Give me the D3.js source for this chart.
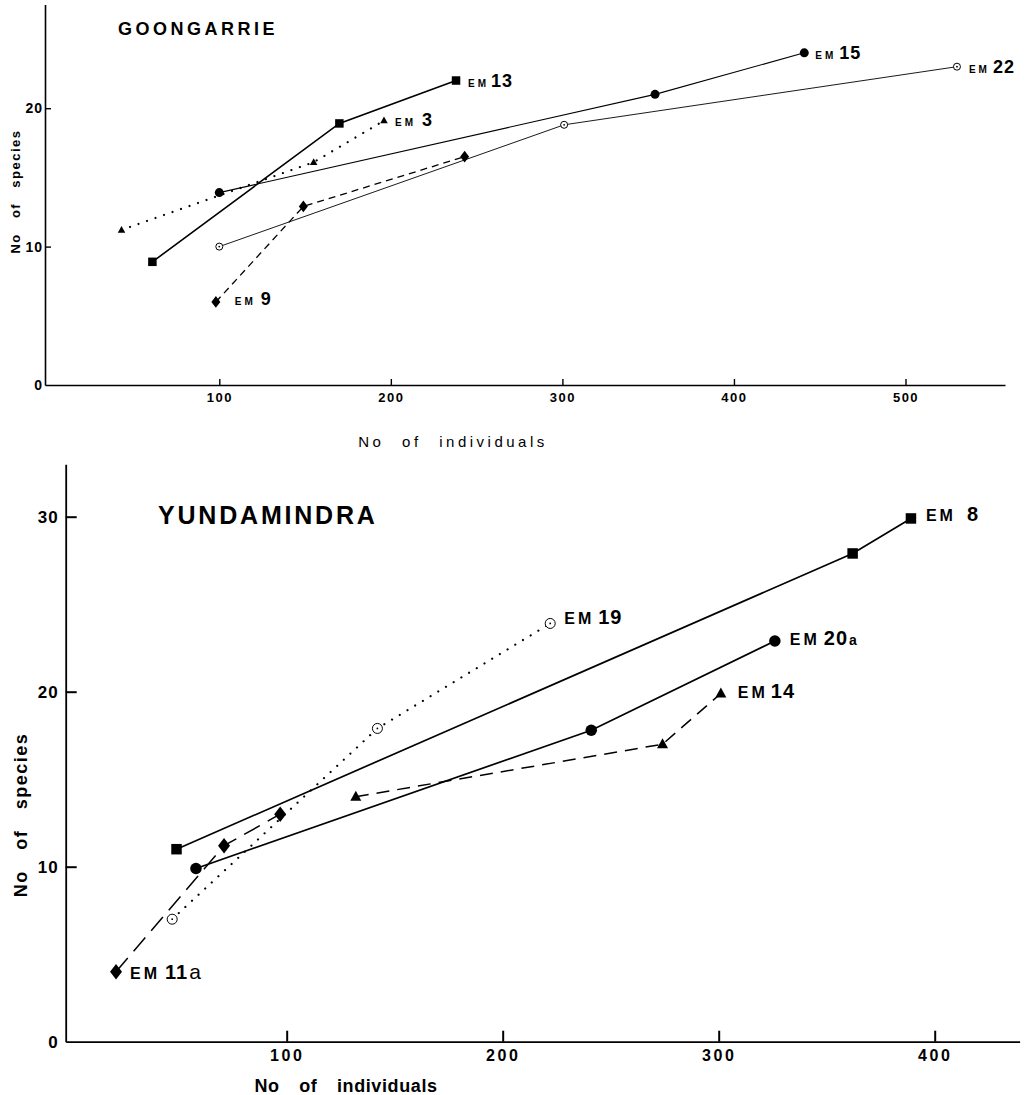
<!DOCTYPE html>
<html>
<head>
<meta charset="utf-8">
<script src="https://cdn.jsdelivr.net/npm/d3@7"></script>
<style>
  body { margin: 0; background: #fff; }
  svg { display: block; font-family: "Liberation Sans", Arial, Helvetica, sans-serif; }
</style>
</head>
<body>
<div id="chart"></div>
<script>
// values: [No of individuals, No of species]
const goongarrieEM13 = [[61, 8.9], [170, 18.9], [238, 22.0]];
const goongarrieEM3  = [[43, 11.2], [155, 16.1], [196, 19.1]];
const goongarrieEM15 = [[100, 13.9], [354, 21.0], [441, 24.0]];
const goongarrieEM22 = [[100, 10.0], [301, 18.8], [530, 23.0]];
const goongarrieEM9  = [[98, 6.0], [149, 12.9], [243, 16.5]];

const yundamindraEM8   = [[49, 11.0], [362, 27.9], [389, 29.9]];
const yundamindraEM20a = [[58, 9.9], [241, 17.8], [326, 22.9]];
const yundamindraEM14  = [[132, 14.0], [274, 17.0], [301, 19.9]];
const yundamindraEM19  = [[47, 7.0], [142, 17.9], [222, 23.9]];
const yundamindraEM11a = [[21, 4.0], [71, 11.2], [97, 13.0]];

const goongarrieXTicks = [100, 200, 300, 400, 500];
const goongarrieYTicks = [0, 10, 20];
const yundamindraXTicks = [100, 200, 300, 400];
const yundamindraYTicks = [0, 10, 20, 30];

// marker shapes, size = width in px
const symSquare = { draw(ctx, w) { ctx.rect(-w / 2, -w / 2, w, w); } };
const symCircle = { draw(ctx, w) { ctx.moveTo(w / 2, 0); ctx.arc(0, 0, w / 2, 0, 2 * Math.PI); } };
const symTriangle = { draw(ctx, w) {
  const h = w * 0.9;
  ctx.moveTo(0, -h * 0.6); ctx.lineTo(w / 2, h * 0.4); ctx.lineTo(-w / 2, h * 0.4); ctx.closePath();
} };
const symDiamond = { draw(ctx, w) {
  const h = w * 1.3;
  ctx.moveTo(0, -h / 2); ctx.lineTo(w / 2, 0); ctx.lineTo(0, h / 2); ctx.lineTo(-w / 2, 0); ctx.closePath();
} };

const DOTTED = "0.01 9", SOLID = null;

const panels = [
  {
    title: "GOONGARRIE", titleX: 118, titleY: 35, titleSize: 18, titleSpacing: 3.5,
    xDomain: [-1.6, 558], xRange: [45, 1005],
    yDomain: [0, 27.5], yRange: [385, 4.4],
    xTicks: goongarrieXTicks, yTicks: goongarrieYTicks,
    axisWidth: 1.6, tickLen: 6, tickWidth: 1.4,
    xTickFont: 13, xTickSpacing: 1.5, xTickPad: 8,
    yTickFont: 14, yTickSpacing: 1, yTickPad: 2,
    xTitle: { x: 453, y: 447, size: 15, weight: "normal", ls: 3.5, ws: 10 },
    yTitle: { x: 20, y: 191.5, size: 13, weight: "bold", ls: 1.5, ws: 10 },
    emSize: 10, emSpacing: 3, numSize: 18,
    series: [
      { name: "EM13", data: goongarrieEM13, sym: symSquare, size: 8.5, width: 1.6, dash: SOLID, at: "last", dx: 12, dy: 6, gap: 2 },
      { name: "EM3", data: goongarrieEM3, sym: symTriangle, size: 7.5, width: 2.2, dash: DOTTED, at: "last", dx: 11, dy: 5.5, gap: 6 },
      { name: "EM15", data: goongarrieEM15, sym: symCircle, size: 9, width: 1.1, dash: SOLID, at: "last", dx: 11, dy: 6, gap: 3 },
      { name: "EM22", data: goongarrieEM22, sym: symCircle, open: true, size: 7, width: 0.9, dash: SOLID, at: "last", dx: 12, dy: 6, gap: 3 },
      { name: "EM9", data: goongarrieEM9, sym: symDiamond, size: 9, width: 1.3, dash: "7 5", at: "first", dx: 19, dy: 3, gap: 5 }
    ]
  },
  {
    title: "YUNDAMINDRA", titleX: 158, titleY: 524, titleSize: 25, titleSpacing: 2.8,
    xDomain: [-2.3, 439.3], xRange: [65.7, 1019.6],
    yDomain: [0, 33], yRange: [1041.7, 464.2],
    xTicks: yundamindraXTicks, yTicks: yundamindraYTicks,
    axisWidth: 1.8, tickLen: 11, tickWidth: 2,
    xTickFont: 16, xTickSpacing: 2.5, xTickPad: 8.3,
    yTickFont: 17, yTickSpacing: 1, yTickPad: 7,
    xTitle: { x: 346, y: 1092, size: 18, weight: "bold", ls: 0.6, ws: 14 },
    yTitle: { x: 27, y: 815, size: 18, weight: "bold", ls: 1.5, ws: 14 },
    emSize: 16, emSpacing: 3, numSize: 20,
    series: [
      { name: "EM8", data: yundamindraEM8, sym: symSquare, size: 10.5, width: 1.7, dash: SOLID, at: "last", dx: 15, dy: 3, gap: 11 },
      { name: "EM20a", data: yundamindraEM20a, sym: symCircle, size: 11.5, width: 1.7, dash: SOLID, at: "last", dx: 15, dy: 4, gap: 4, suffixSize: 14, suffixWeight: "bold" },
      { name: "EM14", data: yundamindraEM14, sym: symTriangle, size: 11, width: 1.5, dash: "13 8", at: "last", dx: 17, dy: 5, gap: 3 },
      { name: "EM19", data: yundamindraEM19, sym: symCircle, open: true, size: 10, width: 2.2, dash: DOTTED, at: "last", dx: 14, dy: 1, gap: 4 },
      { name: "EM11a", data: yundamindraEM11a, sym: symDiamond, size: 12, width: 1.5, dash: "18 9", at: "first", dx: 14, dy: 7, gap: 5, suffixSize: 21, suffixWeight: "normal" }
    ]
  }
];

const svg = d3.select("#chart").append("svg")
  .attr("width", 1029)
  .attr("height", 1095);

function drawPanel(p) {
  const g = svg.append("g");
  const x = d3.scaleLinear().domain(p.xDomain).range(p.xRange);
  const y = d3.scaleLinear().domain(p.yDomain).range(p.yRange);

  // axes, ticks pointing inward
  const xAxis = d3.axisBottom(x).tickValues(p.xTicks).tickSize(-p.tickLen).tickSizeOuter(0).tickPadding(p.xTickPad);
  const yAxis = d3.axisLeft(y).tickValues(p.yTicks).tickSize(-p.tickLen).tickSizeOuter(0).tickPadding(p.yTickPad);

  const gx = g.append("g").attr("transform", `translate(0,${p.yRange[0]})`).call(xAxis);
  const gy = g.append("g").attr("transform", `translate(${p.xRange[0]},0)`).call(yAxis);
  [gx, gy].forEach(a => {
    a.attr("font-family", null).attr("font-size", null);
    a.select(".domain").attr("stroke", "#000").attr("stroke-width", p.axisWidth);
    a.selectAll(".tick line").attr("stroke", "#000").attr("stroke-width", p.tickWidth);
    a.selectAll(".tick text").attr("fill", "#000").attr("font-weight", "bold");
  });
  gx.selectAll(".tick text").attr("font-size", p.xTickFont).attr("letter-spacing", p.xTickSpacing);
  gy.selectAll(".tick text").attr("font-size", p.yTickFont).attr("letter-spacing", p.yTickSpacing);
  gy.selectAll(".tick").filter(d => d === 0).select("line").remove();

  // title
  g.append("text")
    .attr("x", p.titleX).attr("y", p.titleY)
    .attr("font-size", p.titleSize).attr("font-weight", "bold")
    .attr("letter-spacing", p.titleSpacing)
    .text(p.title);

  // axis titles
  g.append("text")
    .attr("x", p.xTitle.x).attr("y", p.xTitle.y)
    .attr("text-anchor", "middle")
    .attr("font-size", p.xTitle.size).attr("font-weight", p.xTitle.weight)
    .attr("letter-spacing", p.xTitle.ls).attr("word-spacing", p.xTitle.ws)
    .text("No of individuals");
  g.append("text")
    .attr("transform", `translate(${p.yTitle.x},${p.yTitle.y}) rotate(-90)`)
    .attr("text-anchor", "middle")
    .attr("font-size", p.yTitle.size).attr("font-weight", p.yTitle.weight)
    .attr("letter-spacing", p.yTitle.ls).attr("word-spacing", p.yTitle.ws)
    .text("No of species");

  const line = d3.line().x(d => x(d[0])).y(d => y(d[1]));

  // lines first, markers on top
  p.series.forEach(s => {
    g.append("path")
      .attr("d", line(s.data))
      .attr("fill", "none")
      .attr("stroke", "#000")
      .attr("stroke-width", s.width)
      .attr("stroke-dasharray", s.dash)
      .attr("stroke-linecap", s.dash === DOTTED ? "round" : "butt");
  });

  p.series.forEach(s => {
    const pts = g.append("g").selectAll("g")
      .data(s.data)
      .join("g")
      .attr("transform", d => `translate(${x(d[0])},${y(d[1])})`);
    pts.append("path")
      .attr("d", d3.symbol().type(s.sym).size(s.size))
      .attr("fill", s.open ? "#fff" : "#000")
      .attr("stroke", "#000")
      .attr("stroke-width", s.open ? 1 : 0);
    if (s.open) pts.append("circle").attr("r", 0.9).attr("fill", "#000");

    // series label
    const pt = s.at === "first" ? s.data[0] : s.data[s.data.length - 1];
    const m = s.name.match(/^EM(\d+)(a?)$/);
    const t = g.append("text")
      .attr("x", x(pt[0]) + s.dx)
      .attr("y", y(pt[1]) + s.dy)
      .attr("font-weight", "bold");
    t.append("tspan").attr("font-size", p.emSize).attr("letter-spacing", p.emSpacing).text("EM");
    t.append("tspan").attr("dx", s.gap).attr("font-size", p.numSize).attr("letter-spacing", 1).text(m[1]);
    if (m[2]) {
      t.append("tspan").attr("dx", 1).attr("font-size", s.suffixSize).attr("font-weight", s.suffixWeight).text(m[2]);
    }
  });
}

panels.forEach(drawPanel);
</script>
</body>
</html>
